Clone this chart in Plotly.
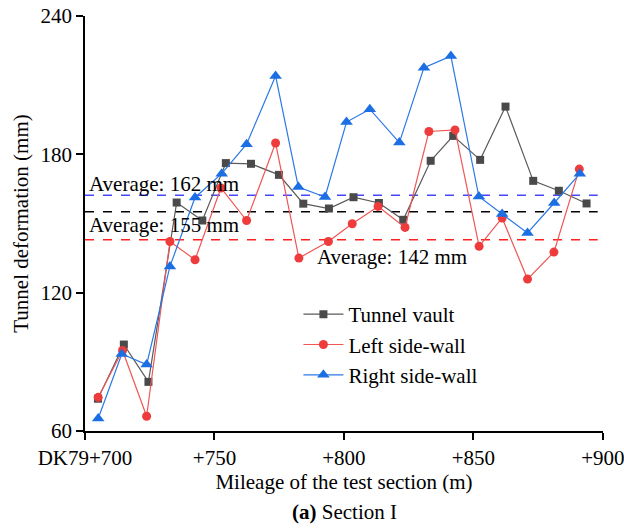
import plotly.graph_objects as go

# ---- data ----
vault_x = [705.0, 715.0, 724.5, 735.4, 745.3, 754.4, 764.1, 774.9, 784.3, 794.2,
           803.7, 813.5, 822.9, 833.5, 842.2, 852.6, 862.4, 873.1, 883.0, 893.7]
vault_y = [74.0, 97.5, 81.3, 159.1, 151.3, 176.2, 175.9, 171.1, 158.6, 156.5,
           161.4, 158.9, 151.6, 177.2, 188.0, 177.6, 200.7, 168.5, 164.2, 158.7]

left_x = [705.1, 714.5, 723.8, 732.8, 742.5, 752.5, 762.4, 773.6, 782.6, 794.0,
          803.2, 813.2, 823.6, 832.8, 842.9, 852.2, 861.1, 870.9, 881.1, 890.9]
left_y = [74.6, 94.9, 66.4, 142.2, 134.3, 165.4, 151.3, 184.9, 135.0, 142.2,
          149.9, 157.4, 148.3, 189.9, 190.6, 140.1, 152.4, 125.9, 137.6, 173.6]

right_x = [705.1, 714.2, 723.8, 732.8, 742.5, 752.8, 762.4, 773.6, 782.4, 792.7,
           801.0, 810.0, 821.4, 830.9, 841.3, 852.1, 861.1, 870.9, 881.2, 891.1]
right_y = [65.4, 93.4, 88.8, 131.4, 161.3, 171.6, 184.4, 214.0, 165.8, 161.5,
           194.0, 199.6, 185.1, 217.6, 222.6, 161.7, 154.1, 145.9, 158.9, 171.6]

avg_values = [162, 155, 142]
avg_line_y = [162.2, 155.1, 143.0]
avg_colors = ["#4646ff", "#000000", "#ff2020"]
avg_label_x = [700.6, 700.6, 789.0]
avg_label_y = [167.2, 149.3, 135.5]

tick_vals = [700, 750, 800, 850, 900]
tick_text = ["DK79+700", "+750", "+800", "+850", "+900"]
y_ticks = [60, 120, 180, 240]

FONT = "Liberation Serif"
FS = 21

fig = go.Figure()

fig.add_trace(go.Scatter(
    x=vault_x, y=vault_y, mode="lines+markers", name="Tunnel vault",
    line=dict(color="#5a5a5a", width=1.2),
    marker=dict(symbol="square", size=8, color="#4a4a4a")))
fig.add_trace(go.Scatter(
    x=left_x, y=left_y, mode="lines+markers", name="Left side-wall",
    line=dict(color="#f05656", width=1.2),
    marker=dict(symbol="circle", size=9, color="#ee3b3b")))
fig.add_trace(go.Scatter(
    x=right_x, y=right_y, mode="lines+markers", name="Right side-wall",
    line=dict(color="#2a78e6", width=1.2),
    marker=dict(symbol="triangle-up", size=11, color="#1c6fe3")))

for v, yv, c, lx, ly in zip(avg_values, avg_line_y, avg_colors, avg_label_x, avg_label_y):
    fig.add_shape(type="line", xref="x", yref="y", x0=700, x1=898, y0=yv, y1=yv,
                  line=dict(color=c, width=1.5, dash="dash"), layer="below")
    fig.add_annotation(x=lx, y=ly, xref="x", yref="y", text=f"Average: {v} mm",
                       showarrow=False, xanchor="left", yanchor="middle",
                       font=dict(family=FONT, size=FS, color="black"))

fig.add_annotation(x=0.5, y=-0.196, xref="paper", yref="paper",
                   text="<b>(a)</b> Section I", showarrow=False,
                   xanchor="center", yanchor="middle",
                   font=dict(family=FONT, size=FS, color="black"))

fig.update_layout(
    width=624, height=530,
    margin=dict(l=85, r=21, t=16, b=99),
    paper_bgcolor="white", plot_bgcolor="white",
    font=dict(family=FONT, size=FS, color="black"),
    showlegend=True,
    legend=dict(x=0.412, y=0.33, xanchor="left", yanchor="top",
                bgcolor="rgba(0,0,0,0)", font=dict(family=FONT, size=FS),
                itemwidth=40, tracegroupgap=0),
    xaxis=dict(range=[700, 900.05], tickvals=tick_vals, ticktext=tick_text,
               automargin=False, ticklabeloverflow="allow",
               showgrid=False, zeroline=False, showline=True, linecolor="black",
               linewidth=1.5, ticks="outside", ticklen=7, tickwidth=1.5,
               tickcolor="black", tickfont=dict(family=FONT, size=FS),
               title=dict(text="Mileage of the test section (m)", standoff=3,
                          font=dict(family=FONT, size=FS))),
    yaxis=dict(range=[60, 240], tickvals=y_ticks, automargin=False,
               ticklabeloverflow="allow",
               showgrid=False, zeroline=False, showline=True, linecolor="black",
               linewidth=1.5, ticks="outside", ticklen=7, tickwidth=1.5,
               tickcolor="black", tickfont=dict(family=FONT, size=FS),
               title=dict(text="Tunnel deformation (mm)", standoff=6,
                          font=dict(family=FONT, size=FS))),
)

fig.write_html("out.html")
